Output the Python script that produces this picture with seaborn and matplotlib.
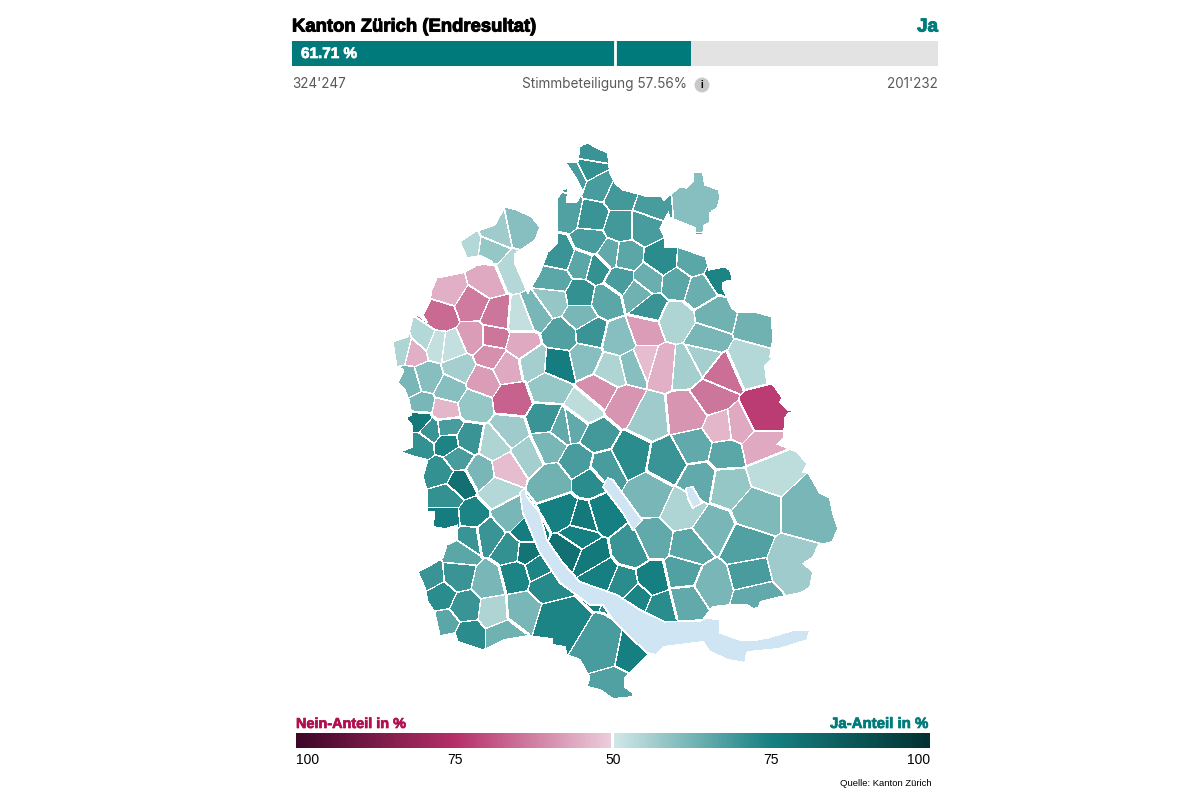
import numpy as np
import matplotlib
matplotlib.use("Agg")
import matplotlib.pyplot as plt
import matplotlib.patheffects as pe
from matplotlib.colors import LinearSegmentedColormap, ListedColormap
from matplotlib.path import Path
import seaborn as sns

# Gemeinden je Bezirk: x, y (Kartenpixel), Ja-Anteil in %
andelfingen = [(593,152,70),(590,170,71),(576,177,68),(598,185,68),(568,212,67),(592,217,70),(590,242,68),
    (620,195,69),(652,206,68),(645,226,68),(620,226,69),(693,203,60),(625,257,66),(662,260,72),(692,262,66),
    (720,277,74),(677,283,66),(648,280,64),(700,290,64),(620,280,68),(638,293,63),(650,308,70),(610,255,65)]
buelach = [(597,268,71),(580,295,71),(560,256,70),(555,281,66),(582,264,66),(606,300,66),(553,300,58),
    (580,316,62),(562,335,67),(535,313,62),(590,333,70),(558,364,76),(585,358,60),(533,362,56),
    (548,388,58),(585,410,53),(522,318,52),(521,228,60),(497,233,57),(490,250,58),(469,247,54),(512,270,54)]
dielsdorf = [(448,290,45),(488,280,44),(472,305,37),(440,316,34),(497,316,36),(473,338,42),(493,338,36),
    (490,355,40),(522,346,44),(508,367,44),(482,380,42),(513,400,33),(452,347,52),(460,368,56),(450,390,60),
    (473,405,58),(445,411,46),(403,347,55),(415,350,45),(424,340,54),(436,345,52),(410,383,62),(427,378,60),
    (421,406,62)]
dietikon = [(510,432,57),(495,445,55),(527,455,56),(480,472,62),(498,492,54),(507,468,47)]
zuerich = [(548,445,62),(546,420,70),(562,427,65),(574,425,65),(597,436,69),(578,462,68),(553,482,63),(590,482,72)]
affoltern = [(420,420,77),(431,430,70),(447,428,68),(420,445,71),(448,443,74),(468,440,70),(458,458,68),
    (440,472,71),(460,483,80),(447,497,71),(447,518,76),(472,516,74),(470,538,70),(460,553,66),(458,575,70),
    (430,577,70),(440,596,72),(445,624,66),(468,635,72),(465,608,70),(489,582,62),(494,612,55),(503,635,63)]
horgen = [(488,535,70),(522,610,62),(510,550,71),(516,575,74),(527,532,76),(527,552,79),(538,568,74),
    (546,584,73),(555,620,74),(510,515,62),(605,650,68),(630,655,75),(615,685,67)]
meilen = [(563,512,75),(583,518,77),(603,512,75),(578,538,75),(570,550,80),(590,558,77),(600,575,75),
    (624,585,72),(636,597,74),(652,580,75),(662,608,72)]
uster = [(633,550,70),(652,541,65),(650,495,62),(630,455,72),(605,468,68),(683,573,67),
    (690,548,66),(712,530,62),(683,510,55),(700,480,65)]
hinwil = [(686,602,65),(712,585,62),(745,547,67),(750,575,68),(755,597,65),(757,510,61),(805,510,62),
    (790,565,57),(728,485,58),(770,472,53)]
pfaeffikon = [(688,414,41),(712,397,36),(722,373,35),(722,428,46),(738,426,44),(760,415,27),(760,447,44),
    (695,447,65),(726,454,66),(668,462,70)]
winterthur = [(645,331,42),(645,360,47),(662,365,45),(620,340,60),(612,370,55),(633,365,60),(600,392,40),
    (623,405,41),(648,418,57),(686,367,56),(703,358,56),(707,340,62),(747,362,54),(715,315,63),(757,325,63),
    (675,320,55)]
bezirke = [andelfingen, buelach, dielsdorf, dietikon, zuerich, affoltern, horgen, meilen, uster, hinwil,
    pfaeffikon, winterthur]

kanton_umriss = [(583,145),(588,143),(597,148),(608,153),(610,172),(615,183),(623,190),(642,195),(645,196),
    (662,197),(664,200),(680,187),(686,188),(693,182),(694,172),(703,172),(705,185),(719,190),(720,198),
    (717,208),(710,212),(710,222),(704,225),(703,235),(696,235),(695,228),(670,218),(668,212),(660,228),
    (665,238),(665,247),(677,247),(706,257),(709,270),(725,267),(730,270),(733,280),(723,282),(723,288),
    (732,308),(737,312),(755,312),(772,317),(773,340),(770,357),(772,358),(765,365),(767,382),(772,383),
    (782,397),(780,402),(788,410),(797,411),(788,413),(785,417),(784,437),(777,444),(785,447),(797,452),
    (807,463),(803,472),(808,472),(820,493),(830,498),(833,513),(838,528),(832,542),(818,545),(813,557),
    (803,563),(813,572),(810,587),(800,593),(775,598),(760,602),(759,607),(753,609),(747,605),(730,605),
    (712,607),(702,620),(687,621),(665,622),(660,640),(647,655),(625,677),(625,687),(633,693),(632,697),
    (613,699),(600,690),(587,687),(590,678),(580,660),(567,655),(565,647),(553,645),(552,639),(527,636),
    (503,640),(488,648),(482,650),(458,642),(455,633),(440,636),(435,613),(428,602),(425,588),(418,572),
    (433,564),(443,558),(447,545),(458,540),(458,525),(445,529),(433,527),(435,512),(428,512),(427,490),
    (423,477),(428,460),(415,457),(400,452),(413,447),(413,427),(406,418),(412,415),(409,400),(405,390),
    (398,383),(404,370),(397,367),(393,342),(408,337),(413,318),(418,315),(427,322),(423,315),(430,302),
    (432,290),(437,278),(463,273),(476,266),(493,262),(480,256),(467,258),(460,242),(475,232),(495,225),
    (505,207),(517,210),(532,217),(540,227),(535,240),(523,248),(515,253),(515,263),(528,293),(540,273),
    (548,252),(558,243),(558,233),(558,198),(563,190),(568,188),(567,202),(577,202),(583,192),(577,180),
    (566,163),(578,162),(580,147)]
zuerichsee = [(525,487),(520,492),(523,513),(540,553),(560,583),(590,605),(603,605),(613,620),(630,637),
    (647,653),(655,655),(663,647),(703,642),(710,652),(728,660),(745,663),(747,652),(778,649),(807,640),
    (810,630),(795,630),(768,638),(757,640),(740,640),(720,633),(720,620),(707,618),(700,621),(665,622),
    (640,610),(617,595),(580,582),(563,563),(547,540),(540,513),(527,497)]
greifensee = [(607,478),(613,480),(642,520),(633,530),(623,513),(603,487)]
pfaeffikersee = [(686,488),(693,487),(702,503),(693,508),(688,498)]
seen = [zuerichsee, greifensee, pfaeffikersee]

ja_prozent = 61.71
ja_stimmen = "324'247"
nein_stimmen = "201'232"
beteiligung = "Stimmbeteiligung 57.56%"
skala_werte = [0, 25, 50, 75, 100]
skala_labels = ["100", "75", "50", "75", "100"]

farben = LinearSegmentedColormap.from_list("nein_ja", [
    (0.0, "#3e0628"), (0.25, "#b52f68"), (0.4999, "#ecd0dd"),
    (0.5, "#d3e8e8"), (0.75, "#168082"), (1.0, "#023232")])
TEAL = "#007a7a"
BORDEAUX = "#b0104f"
fett = lambda c, w=0.5: [pe.withStroke(linewidth=w, foreground=c)]


def px(x, y):
    return x / 1200, 1 - y / 800


def box(x0, y0, x1, y1):
    return [x0 / 1200, 1 - y1 / 800, (x1 - x0) / 1200, (y1 - y0) / 800]


def linien(lab, breite):
    rand = np.zeros(lab.shape, dtype=bool)
    unten = lab[1:, :] != lab[:-1, :]
    rechts = lab[:, 1:] != lab[:, :-1]
    for i in range(breite):
        rand[:-1 - i, :] |= unten[i:, :]
        rand[:, :-1 - i] |= rechts[:, i:]
    return rand


sns.set_theme(style="white")
plt.rcParams["font.family"] = ["Liberation Sans", "DejaVu Sans"]
fig = plt.figure(figsize=(12, 8), dpi=100)

# Ergebnisbalken
ax = fig.add_axes(box(292, 41, 938, 66))
sns.barplot(x=[100], y=[0], orient="h", color="#e3e3e3", width=1, saturation=1, linewidth=0, ax=ax)
sns.barplot(x=[ja_prozent], y=[0], orient="h", color=TEAL, width=1, saturation=1, linewidth=0, ax=ax)
ax.axvline(50, color="white", lw=2)
ax.set_xlim(0, 100)
ax.axis("off")
fig.text(*px(292, 27), "Kanton Zürich (Endresultat)", fontsize=13.3, fontweight="bold", color="black",
         va="center", path_effects=fett("black", 0.7))
fig.text(*px(938, 27), "Ja", fontsize=13.5, fontweight="bold", color=TEAL, va="center", ha="right",
         path_effects=fett(TEAL, 0.7))
fig.text(*px(301, 54), f"{ja_prozent} %", fontsize=11, fontweight="bold", color="white", va="center",
         path_effects=fett("white"))
fig.text(*px(292, 84), ja_stimmen, fontsize=9.7, family="Inter", color="#5a5a5a", va="center")
fig.text(*px(938, 84), nein_stimmen, fontsize=9.7, family="Inter", color="#5a5a5a", va="center", ha="right")
fig.text(*px(687, 84), beteiligung, fontsize=9.8, family="Inter", color="#5a5a5a", va="center", ha="right")
fig.text(*px(702, 85), "i", fontsize=7, fontweight="bold", color="black", va="center", ha="center",
         bbox=dict(boxstyle="circle,pad=0.25", fc="#c8c8c8", ec="none"))

# Karte: jede Rasterzelle gehört zur nächsten Gemeinde
schritt = 0.5
xs = np.arange(385, 845, schritt)
ys = np.arange(135, 705, schritt)
gx, gy = np.meshgrid(xs, ys)
beste = np.full(gx.shape, np.inf)
wert = np.full(gx.shape, np.nan)
gemeinde = np.zeros(gx.shape, dtype=int)
bezirk = np.zeros(gx.shape, dtype=int)
nr = 0
for b, liste in enumerate(bezirke):
    for mx, my, ja in liste:
        nr += 1
        d = (gx - mx) ** 2 + (gy - my) ** 2
        nah = d < beste
        beste[nah] = d[nah]
        wert[nah] = ja
        gemeinde[nah] = nr
        bezirk[nah] = b + 1

punkte = np.column_stack([gx.ravel(), gy.ravel()])
land = Path(kanton_umriss).contains_points(punkte).reshape(gx.shape)
see = np.zeros(gx.shape, dtype=bool)
for s in seen:
    see |= Path(s).contains_points(punkte).reshape(gx.shape)

gemeinde[see] = -1
gemeinde[~land & ~see] = -2
bezirk[~land | see] = 0
rand = linien(gemeinde, 3)
# dicke Bezirksgrenzen nur zwischen zwei Bezirken, nicht am Seeufer
dick = linien(bezirk, 5)
dick &= ~linien((bezirk == 0).astype(int), 5)
rand |= dick
wert[~land | see | rand] = np.nan
see_wert = np.where(see & ~rand, 1.0, np.nan)

ax = fig.add_axes(box(385, 135, 845, 705))
sns.heatmap(wert, cmap=farben, vmin=0, vmax=100, cbar=False, xticklabels=False, yticklabels=False, ax=ax)
sns.heatmap(see_wert, cmap=ListedColormap(["#cfe5f3"]), cbar=False, xticklabels=False, yticklabels=False, ax=ax)
ax.axis("off")

# Legende
verlauf = np.linspace(0, 100, 634)
verlauf_bild = verlauf.reshape(1, -1).copy()
verlauf_bild[0, 315:318] = np.nan
ax = fig.add_axes(box(296, 733, 930, 748))
sns.heatmap(verlauf_bild, cmap=farben, vmin=0, vmax=100, cbar=False, xticklabels=False, yticklabels=False, ax=ax)
ax.tick_params(left=False, bottom=False)
for w, t in zip(skala_werte, skala_labels):
    ha = "left" if w == 0 else "right" if w == 100 else "center"
    ax.text(w / 100 * 634, 1.8, t, fontsize=10, color="black", ha=ha, va="center")
fig.text(*px(296, 724), "Nein-Anteil in %", fontsize=10.4, fontweight="bold", color=BORDEAUX, va="center",
         path_effects=fett(BORDEAUX))
fig.text(*px(928, 724), "Ja-Anteil in %", fontsize=10.8, fontweight="bold", color=TEAL, va="center", ha="right",
         path_effects=fett(TEAL))
fig.text(*px(932, 783), "Quelle: Kanton Zürich", fontsize=6.8, color="black", va="center", ha="right")

fig.savefig("out.png", dpi=100, facecolor="white")
plt.close(fig)
